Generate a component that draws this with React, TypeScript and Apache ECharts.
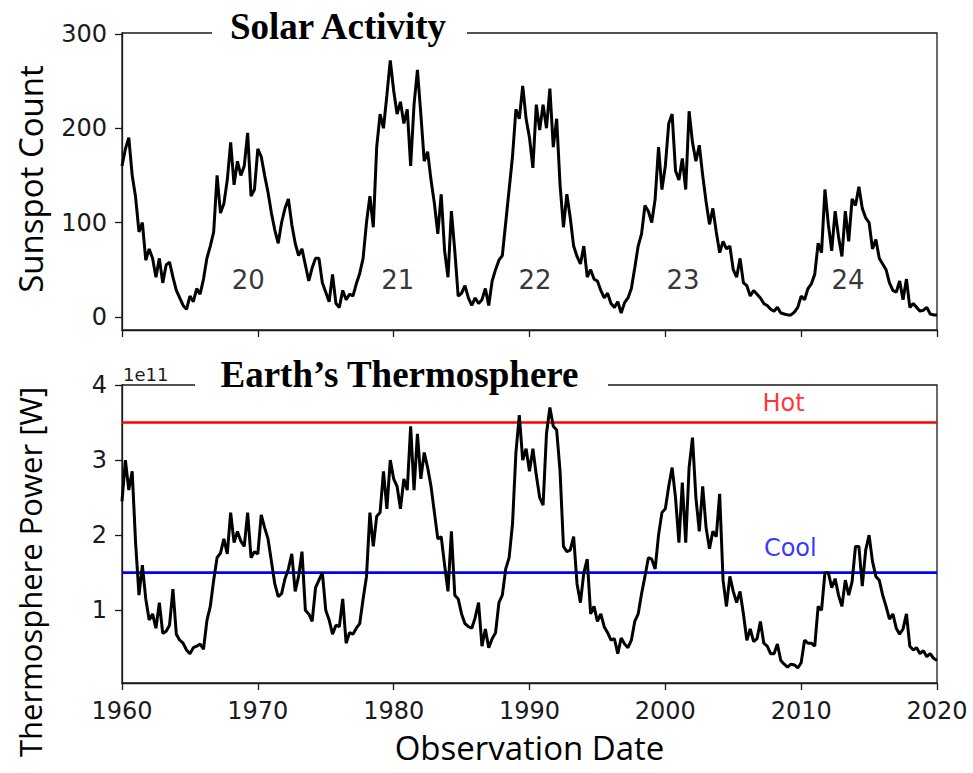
import React, { useEffect, useRef } from "react";
import * as echarts from "echarts";

// ---------- data ----------
const START_YEAR = 1960;
const END_YEAR = 2020;
const SAMPLES_PER_YEAR = 4; // quarterly readings

// Monthly sunspot count, read quarterly (1960.00 ... 2020.00)
const sunspot1960s = [
  160, 178, 190, 150, 127, 90, 100, 60, 72, 62, 42, 62, 36, 55, 58, 42, 28, 20, 12, 8,
  22, 16, 30, 24, 40, 62, 75, 90, 150, 110, 120, 145, 185, 140, 165, 150, 160, 195, 128, 135,
];
const sunspot1970s = [
  178, 170, 150, 132, 110, 92, 78, 100, 115, 125, 98, 78, 65, 72, 55, 38, 52, 62, 62, 36,
  26, 16, 45, 14, 10, 28, 18, 24, 22, 35, 46, 62, 100, 128, 95, 180, 215, 200, 235, 272,
];
const sunspot1980s = [
  240, 215, 228, 205, 220, 160, 225, 262, 215, 165, 175, 145, 120, 88, 130, 70, 42, 112, 70, 22,
  25, 33, 20, 12, 20, 14, 18, 30, 12, 38, 50, 60, 65, 100, 135, 170, 220, 210, 245, 210,
];
const sunspot1990s = [
  190, 158, 225, 198, 225, 200, 242, 180, 210, 140, 95, 130, 105, 75, 64, 56, 75, 42, 50, 40,
  38, 28, 20, 25, 14, 10, 16, 4, 15, 20, 30, 52, 75, 88, 118, 112, 100, 125, 180, 135,
];
const sunspot2000s = [
  160, 205, 215, 155, 145, 168, 135, 218, 185, 165, 182, 150, 122, 98, 115, 90, 68, 80, 72, 75,
  50, 42, 62, 36, 33, 22, 28, 24, 20, 14, 12, 8, 6, 10, 4, 3, 2, 2, 5, 10,
];
const sunspot2010s = [
  22, 18, 30, 35, 45, 78, 68, 135, 98, 70, 112, 85, 64, 112, 80, 125, 118, 138, 115, 105,
  100, 72, 82, 62, 56, 50, 36, 28, 26, 38, 18, 40, 10, 14, 10, 6, 7, 10, 3, 2, 2,
];

// Thermosphere power, in units of 1e11 W, read quarterly (1960.00 ... 2020.00)
const thermo1960s = [
  2.45, 3.0, 2.6, 2.85, 1.9, 1.2, 1.6, 1.15, 0.87, 0.95, 0.76, 1.1, 0.69, 0.72, 0.8, 1.28,
  0.68, 0.6, 0.56, 0.47, 0.42, 0.5, 0.52, 0.55, 0.48, 0.86, 1.05, 1.4, 1.7, 1.76, 1.95, 1.75,
  2.3, 1.9, 2.05, 1.92, 1.85, 2.3, 1.7, 1.78,
];
const thermo1970s = [
  1.75, 2.27, 2.1, 1.95, 1.65, 1.35, 1.18, 1.22, 1.42, 1.55, 1.75, 1.25, 1.45, 1.78, 1.0, 0.95,
  0.85, 1.3, 1.4, 1.5, 1.0, 0.87, 0.68, 0.8, 0.78, 1.15, 0.56, 0.7, 0.68, 0.76, 0.82, 1.15,
  1.45, 2.3, 1.85, 2.25, 2.3, 2.85, 2.35, 3.0,
];
const thermo1980s = [
  2.75, 2.65, 2.35, 2.75, 2.6, 3.45, 2.6, 3.35, 2.75, 3.1, 2.9, 2.65, 2.3, 1.95, 1.98, 1.6,
  1.25, 2.05, 1.2, 1.15, 0.95, 0.82, 0.78, 0.76, 0.9, 1.1, 0.52, 0.75, 0.5, 0.62, 0.7, 1.1,
  1.2, 1.55, 1.7, 2.15, 3.1, 3.6, 3.0, 3.15,
];
const thermo1990s = [
  2.85, 3.15, 2.8, 2.5, 2.4, 3.35, 3.7, 3.45, 3.4, 2.85, 1.85, 1.78, 1.8, 1.98, 1.35, 1.1,
  1.5, 1.68, 0.95, 1.05, 0.85, 0.95, 0.78, 0.7, 0.6, 0.62, 0.42, 0.63, 0.55, 0.5, 0.6, 0.85,
  0.95, 1.22, 1.45, 1.7, 1.68, 1.55, 2.0, 2.3,
];
const thermo2000s = [
  2.35, 2.65, 2.9, 2.5, 1.9, 2.7, 1.9, 2.9, 3.3, 2.5, 2.05, 2.65, 2.1, 1.82, 2.05, 1.98,
  2.55, 1.4, 1.05, 1.45, 1.25, 1.1, 1.25, 0.95, 0.6, 0.75, 0.58, 0.62, 0.85, 0.56, 0.52, 0.42,
  0.42, 0.55, 0.33, 0.28, 0.24, 0.28, 0.27, 0.23,
];
const thermo2010s = [
  0.3, 0.6, 0.56, 0.56, 0.52, 1.05, 1.0, 1.5, 1.5, 1.3, 1.42, 1.2, 1.05, 1.4, 1.2, 1.38,
  1.85, 1.85, 1.32, 1.8, 2.0, 1.65, 1.45, 1.4, 1.2, 1.05, 0.88, 0.95, 0.76, 0.68, 0.75, 0.95,
  0.52, 0.47, 0.5, 0.42, 0.46, 0.38, 0.42, 0.36, 0.33,
];

// Solar cycle annotations
const cycleNames = ["20", "21", "22", "23", "24"];
const cycleYears = [1969.3, 1980.3, 1990.4, 2001.3, 2013.45];
const cycleLabelLevel = [39, 39, 39, 39, 39];

// Thresholds (1e11 W)
const HOT_LEVEL = 3.5;
const COOL_LEVEL = 1.5;
const thresholdNames = ["Hot", "Cool"];
const thresholdLabelYears = [2008.7, 2009.2];
const thresholdLabelLevels = [3.76, 1.83];

// Tick labels
const xTicks = [1960, 1970, 1980, 1990, 2000, 2010, 2020];
const sunspotTicks = [0, 100, 200, 300];
const thermoTicks = [1, 2, 3, 4];

// ---------- helpers ----------
const sunspot = [
  ...sunspot1960s, ...sunspot1970s, ...sunspot1980s, ...sunspot1990s, ...sunspot2000s, ...sunspot2010s,
];
const thermo = [
  ...thermo1960s, ...thermo1970s, ...thermo1980s, ...thermo1990s, ...thermo2000s, ...thermo2010s,
];
const withDates = (vals: number[]) =>
  vals.map((v, i) => [START_YEAR + i / SAMPLES_PER_YEAR, v]);

const INK = "#1a1a1a";
const TICK_FONT = "DejaVu Sans";

const axisLineStyle = { color: INK, width: 1.3 };

function buildOption(): any {
  const xBase = (gridIndex: number, showLabels: boolean) => ({
    type: "value",
    gridIndex,
    min: START_YEAR,
    max: END_YEAR,
    interval: 10,
    axisLine: { show: true, onZero: false, lineStyle: axisLineStyle },
    axisTick: { show: true, length: 7, lineStyle: axisLineStyle, customValues: xTicks },
    axisLabel: {
      show: showLabels,
      customValues: xTicks,
      formatter: (v: number) => String(Math.round(v)),
      fontFamily: TICK_FONT,
      fontSize: 24,
      color: INK,
      margin: 16,
    },
    splitLine: { show: false },
  });

  return {
    animation: false,
    backgroundColor: "#ffffff",
    grid: [
      {
        left: 122, right: 36, top: 33, height: 297,
        show: true, borderColor: INK, borderWidth: 1.3, backgroundColor: "transparent",
        outerBoundsMode: "none",
      },
      {
        left: 122, right: 36, top: 385, height: 298,
        show: true, borderColor: INK, borderWidth: 1.3, backgroundColor: "transparent",
        outerBoundsMode: "none",
      },
    ],
    xAxis: [
      xBase(0, false),
      {
        ...xBase(1, true),
        name: "Observation Date",
        nameLocation: "middle",
        nameGap: 48,
        nameTextStyle: { fontFamily: "Open Sans", fontSize: 33, color: "#000" },
      },
    ],
    yAxis: [
      {
        type: "value",
        gridIndex: 0,
        min: -14,
        max: 301,
        axisLine: { show: true, onZero: false, lineStyle: axisLineStyle },
        axisTick: { show: true, length: 7, lineStyle: axisLineStyle, customValues: sunspotTicks },
        axisLabel: {
          customValues: sunspotTicks,
          formatter: (v: number) => String(Math.round(v)),
          fontFamily: TICK_FONT, fontSize: 24, color: INK, margin: 15,
        },
        splitLine: { show: false },
      },
      {
        type: "value",
        gridIndex: 1,
        min: 0.03,
        max: 4,
        axisLine: { show: true, onZero: false, lineStyle: axisLineStyle },
        axisTick: { show: true, length: 7, lineStyle: axisLineStyle, customValues: thermoTicks },
        axisLabel: {
          customValues: thermoTicks,
          formatter: (v: number) => String(Math.round(v)),
          fontFamily: TICK_FONT, fontSize: 24, color: INK, margin: 15,
        },
        splitLine: { show: false },
      },
    ],
    graphic: [
      // Title patches that interrupt the top spines
      { type: "rect", z: 100, shape: { x: 212, y: 22, width: 255, height: 22 }, style: { fill: "#ffffff" } },
      {
        type: "text", z: 101, x: 338, y: 26.5,
        style: {
          text: "Solar Activity", fontFamily: "Liberation Serif", fontWeight: "bold", fontSize: 37,
          fill: "#000", align: "center", verticalAlign: "middle",
        },
      },
      { type: "rect", z: 100, shape: { x: 195, y: 377, width: 413, height: 16 }, style: { fill: "#ffffff" } },
      {
        type: "text", z: 101, x: 399.5, y: 374.5,
        style: {
          text: "Earth\u2019s Thermosphere", fontFamily: "Liberation Serif", fontWeight: "bold", fontSize: 37,
          fill: "#000", align: "center", verticalAlign: "middle",
        },
      },
      {
        type: "text", z: 101, x: 123, y: 383,
        style: { text: "1e11", fontFamily: TICK_FONT, fontSize: 18, fill: INK, align: "left", verticalAlign: "bottom" },
      },
      // Y-axis titles
      {
        type: "text", z: 101, x: 30, y: 179, rotation: Math.PI / 2,
        style: { text: "Sunspot Count", fontFamily: "Open Sans", fontSize: 33, fill: "#000", align: "center", verticalAlign: "middle" },
      },
      {
        type: "text", z: 101, x: 30, y: 572, rotation: Math.PI / 2,
        style: { text: "Thermosphere Power [W]", fontFamily: "Open Sans", fontSize: 31, fill: "#000", align: "center", verticalAlign: "middle" },
      },
    ],
    series: [
      {
        name: "Sunspot Count",
        type: "line",
        xAxisIndex: 0,
        yAxisIndex: 0,
        data: withDates(sunspot),
        showSymbol: false,
        symbol: "none",
        lineStyle: { color: "#000", width: 3 },
        z: 3,
      },
      {
        name: "Cycles",
        type: "scatter",
        xAxisIndex: 0,
        yAxisIndex: 0,
        data: cycleNames.map((n, i) => ({ value: [cycleYears[i], cycleLabelLevel[i]], name: n })),
        symbolSize: 1,
        itemStyle: { color: "rgba(0,0,0,0)" },
        label: {
          show: true, position: "inside", formatter: (p: any) => p.name,
          fontFamily: TICK_FONT, fontSize: 26, color: "#000", textBorderWidth: 0,
        },
        silent: true,
        z: 4,
      },
      {
        name: "Hot",
        type: "line",
        xAxisIndex: 1,
        yAxisIndex: 1,
        data: [[START_YEAR, HOT_LEVEL], [END_YEAR, HOT_LEVEL]],
        showSymbol: false,
        symbol: "none",
        lineStyle: { color: "#ff0000", width: 2.6 },
        z: 2,
      },
      {
        name: "Cool",
        type: "line",
        xAxisIndex: 1,
        yAxisIndex: 1,
        data: [[START_YEAR, COOL_LEVEL], [END_YEAR, COOL_LEVEL]],
        showSymbol: false,
        symbol: "none",
        lineStyle: { color: "#0000ff", width: 2.6 },
        z: 2,
      },
      {
        name: "Thermosphere Power",
        type: "line",
        xAxisIndex: 1,
        yAxisIndex: 1,
        data: withDates(thermo),
        showSymbol: false,
        symbol: "none",
        lineStyle: { color: "#000", width: 3 },
        z: 3,
      },
      {
        name: "Threshold labels",
        type: "scatter",
        xAxisIndex: 1,
        yAxisIndex: 1,
        data: thresholdNames.map((n, i) => ({
          value: [thresholdLabelYears[i], thresholdLabelLevels[i]],
          name: n,
          label: { color: i === 0 ? "#ff0000" : "#0000ff" },
        })),
        symbolSize: 1,
        itemStyle: { color: "rgba(0,0,0,0)" },
        label: {
          show: true, position: "inside", formatter: (p: any) => p.name,
          fontFamily: TICK_FONT, fontSize: 24, textBorderWidth: 0,
        },
        silent: true,
        z: 4,
      },
    ],
  };
}

export default function App() {
  const ref = useRef<HTMLDivElement>(null);
  useEffect(() => {
    if (!ref.current) return;
    const chart = echarts.init(ref.current, null, { renderer: "svg" });
    chart.setOption(buildOption());
    return () => chart.dispose();
  }, []);
  return (
    <div
      ref={ref}
      style={{ position: "absolute", left: 0, top: 0, width: 973, height: 773, background: "#fff" }}
    />
  );
}
